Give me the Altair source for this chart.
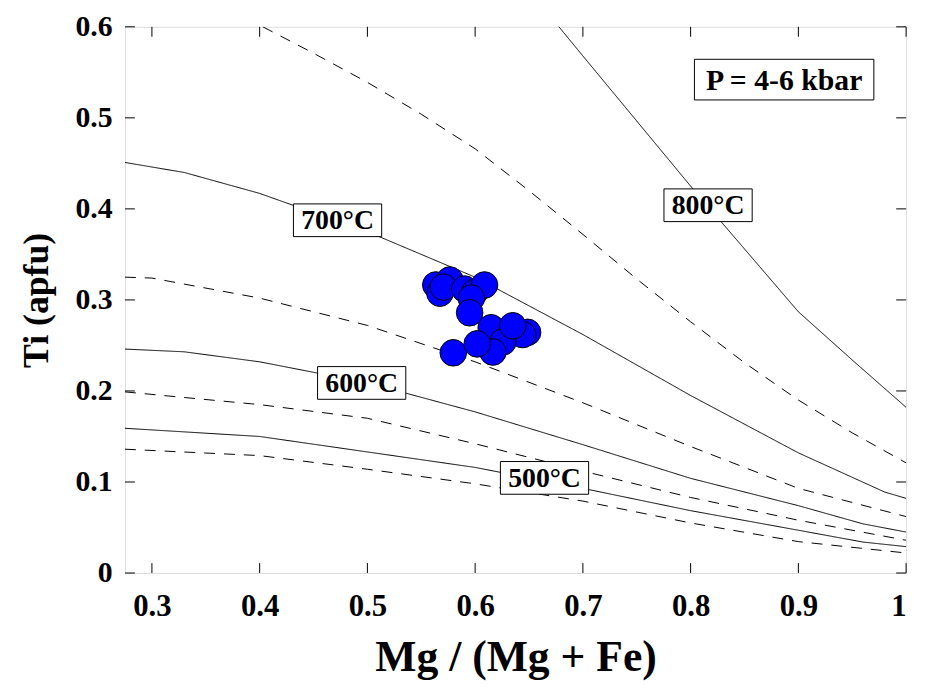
import altair as alt
import pandas as pd

FONT = "Liberation Serif"
W, H = 788, 551

# ---- isotherm curves (Ti-in-biotite) ----
c800_x = [0.65, 0.7, 0.8, 0.9, 0.95, 1.0]
c800_y = [0.64, 0.568, 0.425, 0.287, 0.234, 0.182]
c750_x = [0.403, 0.45, 0.5, 0.55, 0.6, 0.65, 0.7, 0.75, 0.8, 0.85, 0.9, 0.95, 1.0]
c750_y = [0.6, 0.571, 0.539, 0.504, 0.466, 0.42, 0.372, 0.323, 0.276, 0.231, 0.19, 0.154, 0.121]
c700_x = [0.275, 0.33, 0.4, 0.5, 0.6, 0.7, 0.8, 0.9, 0.98, 1.0]
c700_y = [0.451, 0.44, 0.417, 0.375, 0.325, 0.262, 0.195, 0.132, 0.089, 0.082]
c650_x = [0.275, 0.3, 0.4, 0.5, 0.6, 0.7, 0.8, 0.9, 1.0]
c650_y = [0.325, 0.324, 0.302, 0.272, 0.232, 0.187, 0.139, 0.093, 0.062]
c600_x = [0.275, 0.33, 0.4, 0.5, 0.6, 0.7, 0.8, 0.9, 0.96, 1.0]
c600_y = [0.246, 0.243, 0.232, 0.209, 0.177, 0.141, 0.104, 0.074, 0.054, 0.045]
c550_x = [0.275, 0.4, 0.5, 0.6, 0.7, 0.8, 0.9, 1.0]
c550_y = [0.199, 0.185, 0.170, 0.142, 0.112, 0.083, 0.058, 0.036]
c500_x = [0.275, 0.4, 0.5, 0.6, 0.7, 0.8, 0.9, 0.96, 1.0]
c500_y = [0.159, 0.150, 0.133, 0.116, 0.093, 0.0685, 0.047, 0.034, 0.029]
c450_x = [0.275, 0.4, 0.5, 0.6, 0.7, 0.8, 0.9, 1.0]
c450_y = [0.136, 0.129, 0.114, 0.098, 0.079, 0.055, 0.0345, 0.022]

# ---- biotite analyses ----
pt_x = [0.5635, 0.5673, 0.5765, 0.5705, 0.5903, 0.5995, 0.6087, 0.5965, 0.5949,
        0.6487, 0.6441, 0.6149, 0.6257, 0.6349, 0.6165, 0.5797, 0.6019]
pt_y = [0.3164, 0.3074, 0.3219, 0.3141, 0.3119, 0.3083, 0.3164, 0.3020, 0.2859,
        0.2644, 0.2620, 0.2694, 0.2538, 0.2716, 0.2428, 0.2419, 0.2517]

# ---- labels ----
lab_text = ["700°C", "600°C", "500°C", "800°C"]
lab_x = [0.4723, 0.4947, 0.6644, 0.8162]
lab_y = [0.3875, 0.2088, 0.1045, 0.404]
p_text = ["P = 4-6 kbar"]
p_x = [0.8868]
p_y = [0.542]

x_ticks = [0.3, 0.4, 0.5, 0.6, 0.7, 0.8, 0.9, 1.0]
y_ticks = [0.0, 0.1, 0.2, 0.3, 0.4, 0.5, 0.6]

curves = [
    ("800", "solid", c800_x, c800_y), ("750", "dashed", c750_x, c750_y),
    ("700", "solid", c700_x, c700_y), ("650", "dashed", c650_x, c650_y),
    ("600", "solid", c600_x, c600_y), ("550", "dashed", c550_x, c550_y),
    ("500", "solid", c500_x, c500_y), ("450", "dashed", c450_x, c450_y),
]
rows = []
for name, style, xs_, ys_ in curves:
    for i, (a, b) in enumerate(zip(xs_, ys_)):
        rows.append({"curve": name, "style": style, "order": i, "x": a, "y": b})
df_c = pd.DataFrame(rows)
df_p = pd.DataFrame({"x": pt_x, "y": pt_y})
df_l = pd.DataFrame({"t": lab_text, "x": lab_x, "y": lab_y})
df_pl = pd.DataFrame({"t": p_text, "x": p_x, "y": p_y})
df_xt = pd.DataFrame({"x": x_ticks})
df_yt = pd.DataFrame({"y": y_ticks})

xs = alt.Scale(domain=[0.275, 1.0], nice=False, zero=False)
ys = alt.Scale(domain=[0, 0.6], nice=False)

x_axis = alt.Axis(values=x_ticks, title="Mg / (Mg + Fe)", grid=False, ticks=False,
                  domain=False, labelFont=FONT, labelFontSize=31, labelFontWeight="bold",
                  labelPadding=19, labelColor="black",
                  labelExpr="datum.value == 1 ? '1' : format(datum.value, '.1f')",
                  titleFont=FONT, titleFontSize=44, titleFontWeight="bold",
                  titlePadding=14, titleColor="black")
y_axis = alt.Axis(values=y_ticks, title="Ti (apfu)", grid=False, ticks=False,
                  domain=False, labelFont=FONT, labelFontSize=30, labelFontWeight="bold",
                  labelPadding=13, labelColor="black",
                  labelExpr="datum.value == 0 ? '0' : format(datum.value, '.1f')",
                  titleFont=FONT, titleFontSize=36, titleFontWeight="bold",
                  titlePadding=20, titleColor="black")

lines = alt.Chart(df_c).mark_line(color="black", strokeWidth=1, clip=True).encode(
    x=alt.X("x:Q", scale=xs, axis=x_axis),
    y=alt.Y("y:Q", scale=ys, axis=y_axis),
    detail="curve:N",
    order="order:Q",
    strokeDash=alt.StrokeDash("style:N",
                              scale=alt.Scale(domain=["solid", "dashed"], range=[[1, 0], [11, 9]]),
                              legend=None),
)

pts = alt.Chart(df_p).mark_circle(size=720, color="#0000ff", opacity=1,
                                  stroke="black", strokeWidth=1).encode(
    x=alt.X("x:Q", scale=xs), y=alt.Y("y:Q", scale=ys))

boxes = alt.Chart(df_l).mark_rect(width=89, height=33, fill="white", stroke="black",
                                  strokeWidth=1).encode(
    x=alt.X("x:Q", scale=xs), y=alt.Y("y:Q", scale=ys))
texts = alt.Chart(df_l).mark_text(font=FONT, fontSize=28, fontWeight="bold", color="black",
                                  baseline="middle", dy=1).encode(
    x=alt.X("x:Q", scale=xs), y=alt.Y("y:Q", scale=ys), text="t:N")

pbox = alt.Chart(df_pl).mark_rect(width=181, height=41, fill="white", stroke="black",
                                  strokeWidth=1).encode(
    x=alt.X("x:Q", scale=xs), y=alt.Y("y:Q", scale=ys))
ptext = alt.Chart(df_pl).mark_text(font=FONT, fontSize=30, fontWeight="bold", color="black",
                                   baseline="middle", dy=1).encode(
    x=alt.X("x:Q", scale=xs), y=alt.Y("y:Q", scale=ys), text="t:N")

tb = alt.Chart(df_xt).mark_rule(color="black", strokeWidth=1).encode(
    x=alt.X("x:Q", scale=xs), y=alt.value(H), y2=alt.value(H - 10))
tt = alt.Chart(df_xt).mark_rule(color="black", strokeWidth=1).encode(
    x=alt.X("x:Q", scale=xs), y=alt.value(0), y2=alt.value(10))
tl = alt.Chart(df_yt).mark_rule(color="black", strokeWidth=1).encode(
    y=alt.Y("y:Q", scale=ys), x=alt.value(0), x2=alt.value(10))
tr = alt.Chart(df_yt).mark_rule(color="black", strokeWidth=1).encode(
    y=alt.Y("y:Q", scale=ys), x=alt.value(W), x2=alt.value(W - 10))

chart = alt.layer(lines, pts, boxes, texts, pbox, ptext, tb, tt, tl, tr).properties(
    width=W, height=H,
    autosize=alt.AutoSizeParams(type="none"),
    padding={"left": 118, "top": 16, "right": 12, "bottom": 113},
).configure_view(stroke="black", strokeWidth=1.2).configure(background="white")

chart.save("out.html", embed_options={"renderer": "svg", "actions": False})
